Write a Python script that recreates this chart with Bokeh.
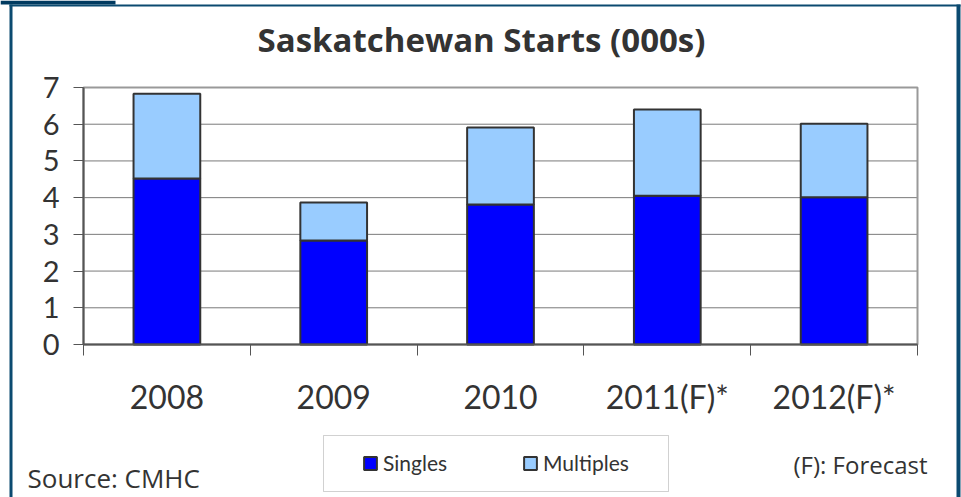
from bokeh.plotting import figure
from bokeh.models import (FixedTicker, Legend, LegendItem, Label, BoxAnnotation,
                          ColumnDataSource)
from bokeh.embed import file_html
from bokeh.resources import INLINE

# ---- data (thousands of starts) ----
categories = ["2008", "2009", "2010", "2011(F)*", "2012(F)*"]
singles = [4.52, 2.83, 3.81, 4.05, 4.01]
multiples = [2.31, 1.04, 2.10, 2.35, 2.00]
y_ticks = [0, 1, 2, 3, 4, 5, 6, 7]

FONT = "Lato"
FONT2 = "Open Sans"
TXT = "#333333"
FRAME_BLUE = "#0b4a70"

W, H = 961, 497
# pixel placement of the chart area inside the canvas
PX_L, PX_R, PX_T, PX_B = 83, 917, 87, 344
n = len(categories)
ymax = y_ticks[-1]
xs = (PX_R - PX_L) / n
ys = (PX_B - PX_T) / ymax
x_range = (-PX_L / xs, n + (W - PX_R) / xs)
y_range = (-(H - PX_B) / ys, ymax + PX_T / ys)

x_centers = [i + 0.5 for i in range(n)]
src = ColumnDataSource(dict(x=x_centers, singles=singles, multiples=multiples))

p = figure(width=W, height=H, output_backend="svg", toolbar_location=None,
           x_range=x_range, y_range=y_range, title_location=None,
           min_border=0)
p.background_fill_color = "white"
p.border_fill_color = "white"
p.outline_line_color = None
p.xgrid.visible = False
p.ygrid.visible = False

# horizontal grid lines across the category span
grid_src = ColumnDataSource(dict(y=y_ticks[1:], x0=[0] * (len(y_ticks) - 1),
                                 x1=[n] * (len(y_ticks) - 1)))
p.segment(x0="x0", x1="x1", y0="y", y1="y", source=grid_src,
          line_color="#7a7a7a", line_width=1)

# plot-area outline (top/right visible)
p.quad(left=[0], right=[n], bottom=[0], top=[ymax], fill_color=None,
       line_color="#999999", line_width=2)

rs = p.vbar_stack(["singles", "multiples"], x="x", width=0.4, source=src,
                  color=["#0000ff", "#99ccff"], line_color="#333333", line_width=2)

# y axis
yax = p.yaxis[0]
yax.fixed_location = 0
yax.bounds = (0, ymax)
yax.ticker = FixedTicker(ticks=y_ticks)
yax.axis_line_color = "#555555"
yax.axis_line_width = 2
yax.major_tick_line_color = "#555555"
yax.major_tick_out = 10
yax.major_tick_in = 0
yax.minor_tick_line_color = None
yax.major_label_standoff = 14
yax.major_label_text_font = FONT
yax.major_label_text_font_size = "29px"
yax.major_label_text_color = TXT

# x axis: tick marks at category boundaries, labels at centres
xax = p.xaxis[0]
xax.fixed_location = 0
xax.bounds = (0, n)
xax.ticker = FixedTicker(ticks=x_centers, minor_ticks=list(range(n + 1)))
xax.major_label_overrides = {xc: c for xc, c in zip(x_centers, categories)}
xax.major_tick_line_color = None
xax.major_tick_out = 0
xax.major_tick_in = 0
xax.minor_tick_line_color = "#555555"
xax.minor_tick_out = 11
xax.minor_tick_in = 0
xax.axis_line_color = "#555555"
xax.axis_line_width = 2
xax.major_label_standoff = 21
xax.major_label_text_font = FONT
xax.major_label_text_font_size = "32px"
xax.major_label_text_color = TXT


def cbox(l, r, t, b, **kw):
    return BoxAnnotation(left=l, right=r, top=t, bottom=b,
                         left_units="canvas", right_units="canvas",
                         top_units="canvas", bottom_units="canvas", **kw)


# outer frame (dark blue borders + tab)
p.add_layout(cbox(0, 115, 0, 4, fill_color="#003a60", fill_alpha=1, line_color=None, level="overlay"))
p.add_layout(cbox(9, 960, 4, 6, fill_color=FRAME_BLUE, fill_alpha=1, line_color=None, level="overlay"))
p.add_layout(cbox(9, 12, 4, H, fill_color=FRAME_BLUE, fill_alpha=1, line_color=None, level="overlay"))
p.add_layout(cbox(956, 960, 4, H, fill_color=FRAME_BLUE, fill_alpha=1, line_color=None, level="overlay"))

# legend box
p.add_layout(cbox(323, 668, 435, 491, fill_color="white", fill_alpha=1,
                  line_color="#666666", line_width=1, level="overlay"))

legend = Legend(items=[LegendItem(label="Singles", renderers=[rs[0]]),
                       LegendItem(label="Multiples", renderers=[rs[1]])],
                orientation="horizontal", location=(362, 22),
                padding=0, spacing=0, margin=0, label_width=139,
                glyph_width=16, glyph_height=16, label_standoff=5,
                label_text_font=FONT, label_text_font_size="21px",
                label_text_color=TXT, border_line_color=None,
                background_fill_alpha=0)
p.add_layout(legend, "center")

# texts
p.add_layout(Label(x=481, y=39, x_units="canvas", y_units="canvas",
                   text="Saskatchewan Starts (000s)", text_align="center",
                   text_baseline="middle", text_font=FONT2,
                   text_font_style="bold", text_font_size="33px", text_color=TXT))
p.add_layout(Label(x=27, y=477, x_units="canvas", y_units="canvas",
                   text="Source: CMHC", text_align="left",
                   text_baseline="middle", text_font=FONT2,
                   text_font_size="26px", text_color=TXT))
p.add_layout(Label(x=927, y=464, x_units="canvas", y_units="canvas",
                   text="(F): Forecast", text_align="right",
                   text_baseline="middle", text_font=FONT2,
                   text_font_size="24px", text_color=TXT))

open("out.html", "w").write(file_html(p, INLINE))
